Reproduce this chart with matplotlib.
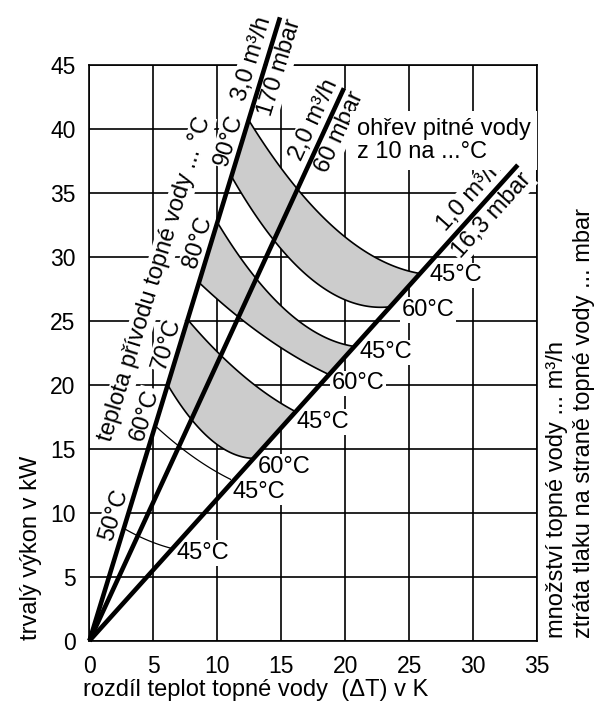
import numpy as np
import matplotlib
matplotlib.use("Agg")
import matplotlib.pyplot as plt

plt.rcParams['font.family'] = ['Liberation Sans', 'DejaVu Sans']

# heating water flow lines (slope in kW per K)
flow_labels = ["3,0 m³/h", "2,0 m³/h", "1,0 m³/h"]
dp_labels = ["170 mbar", "60 mbar", "16,3 mbar"]
flow_slopes = [3.27, 2.17, 1.11]
flow_ends = [14.9, 19.9, 33.5]
flow_label_at = [13.8, 18.55, 30.65]   # ΔT along each line where its labels sit

# supply temperature curves: kW where each curve meets the 3,0 / 2,0 / 1,0 line
supply_temps = ["90°C", "80°C", "70°C", "60°C", "50°C"]
supply_label_at = [11.87, 9.43, 7.0, 5.3, 2.91]
outlet_temps = ["45°C", "60°C", "45°C", "60°C", "45°C", "60°C", "45°C", "45°C"]
curve_kw = [
    [40.7, 35.3, 28.7],
    [36.3, 31.3, 26.1],
    [32.7, 28.3, 23.0],
    [28.0, 25.3, 20.8],
    [25.1, 22.3, 17.9],
    [20.0, 17.3, 14.25],
    [16.8, 15.2, 12.5],
    [8.78, 8.2, 7.2],
]
bands = [(0, 1), (2, 3), (4, 5)]

x_ticks = [0, 5, 10, 15, 20, 25, 30, 35]
y_ticks = [0, 5, 10, 15, 20, 25, 30, 35, 40, 45]

FS = 17
GREY = "#cccccc"
BOX = dict(facecolor="white", edgecolor="none", pad=1.2)


def curve_xy(kw):
    xs = [k / s for k, s in zip(kw, flow_slopes)]
    coef = np.polyfit(xs, kw, 2)
    xx = np.linspace(xs[0], xs[-1], 80)
    return xx, np.polyval(coef, xx)


def line_label(ax, i, x, text, side, gap, zorder=5):
    # side=+1: left/above the line, side=-1: right/below
    th = np.arctan(flow_slopes[i])
    dx, dy = -np.sin(th) * gap * side, np.cos(th) * gap * side
    ax.annotate(text, xy=(x, flow_slopes[i] * x), xytext=(dx, dy),
                textcoords="offset points", rotation=np.degrees(th),
                rotation_mode="anchor", ha="center",
                va="bottom" if side > 0 else "top", fontsize=FS,
                bbox=BOX, zorder=zorder, annotation_clip=False)


fig = plt.figure(figsize=(5.95, 7.04), dpi=100)
ax = fig.add_axes([0.1504, 0.0899, 0.7521, 0.8178])
ax.set_xlim(0, 35)
ax.set_ylim(0, 45)
ax.set_xticks(x_ticks)
ax.set_yticks(y_ticks)
ax.tick_params(length=0, pad=10, labelsize=16.5)
ax.grid(True, color="black", lw=1.2)
ax.set_axisbelow(True)
for sp in ax.spines.values():
    sp.set_linewidth(1.2)
    sp.set_zorder(0.6)

# shaded bands
for a, b in bands:
    xa, ya = curve_xy(curve_kw[a])
    xb, yb = curve_xy(curve_kw[b])
    ax.fill(np.concatenate([xa, xb[::-1]]), np.concatenate([ya, yb[::-1]]),
            color=GREY, lw=0, zorder=1)

# curves
for i, kw in enumerate(curve_kw):
    xx, yy = curve_xy(kw)
    ax.plot(xx, yy, color="black", lw=1.2 if i < 6 else 0.9, zorder=2)

# flow lines (above the label boxes)
for s, e in zip(flow_slopes, flow_ends):
    ax.plot([0, e], [0, s * e], color="black", lw=3.3, zorder=7,
            solid_capstyle="butt", clip_on=False)

# flow / pressure-drop labels
for i in range(3):
    line_label(ax, i, flow_label_at[i], flow_labels[i], +1, 2.5)
    line_label(ax, i, flow_label_at[i], dp_labels[i], -1, 2.5)

# supply temperature labels along the 3,0 line
for lbl, x in zip(supply_temps, supply_label_at):
    line_label(ax, 0, x, lbl, +1, 1.5)
line_label(ax, 0, 8.35, "teplota přívodu topné vody ... °C", +1, 23, zorder=4)

# outlet temperature labels along the 1,0 line
outlet_pos = [(26.6, 28.57), (24.41, 25.84), (21.13, 22.55), (18.95, 20.13),
              (16.21, 17.09), (13.16, 13.57), (11.21, 11.62), (6.84, 6.85)]
for lbl, p in zip(outlet_temps, outlet_pos):
    ax.text(*p, lbl, fontsize=FS, ha="left", va="center", bbox=BOX, zorder=5)

ax.text(20.9, 39.08, "ohřev pitné vody\nz 10 na ...°C", fontsize=FS,
        ha="left", va="center", linespacing=1.05,
        bbox=dict(facecolor="white", edgecolor="none", pad=5), zorder=5)

fig.text(0.052, 0.0909, "trvalý výkon v kW", rotation=90, ha="center",
         va="bottom", fontsize=FS)
fig.text(0.1395, 0.0199, "rozdíl teplot topné vody  (ΔT) v K", ha="left",
         va="center", fontsize=FS)
fig.text(0.936, 0.094, "množství topné vody ... m³/h", rotation=90,
         ha="center", va="bottom", fontsize=FS)
fig.text(0.982, 0.094, "ztráta tlaku na straně topné vody ... mbar",
         rotation=90, ha="center", va="bottom", fontsize=FS)

fig.savefig("out.png", dpi=100)
